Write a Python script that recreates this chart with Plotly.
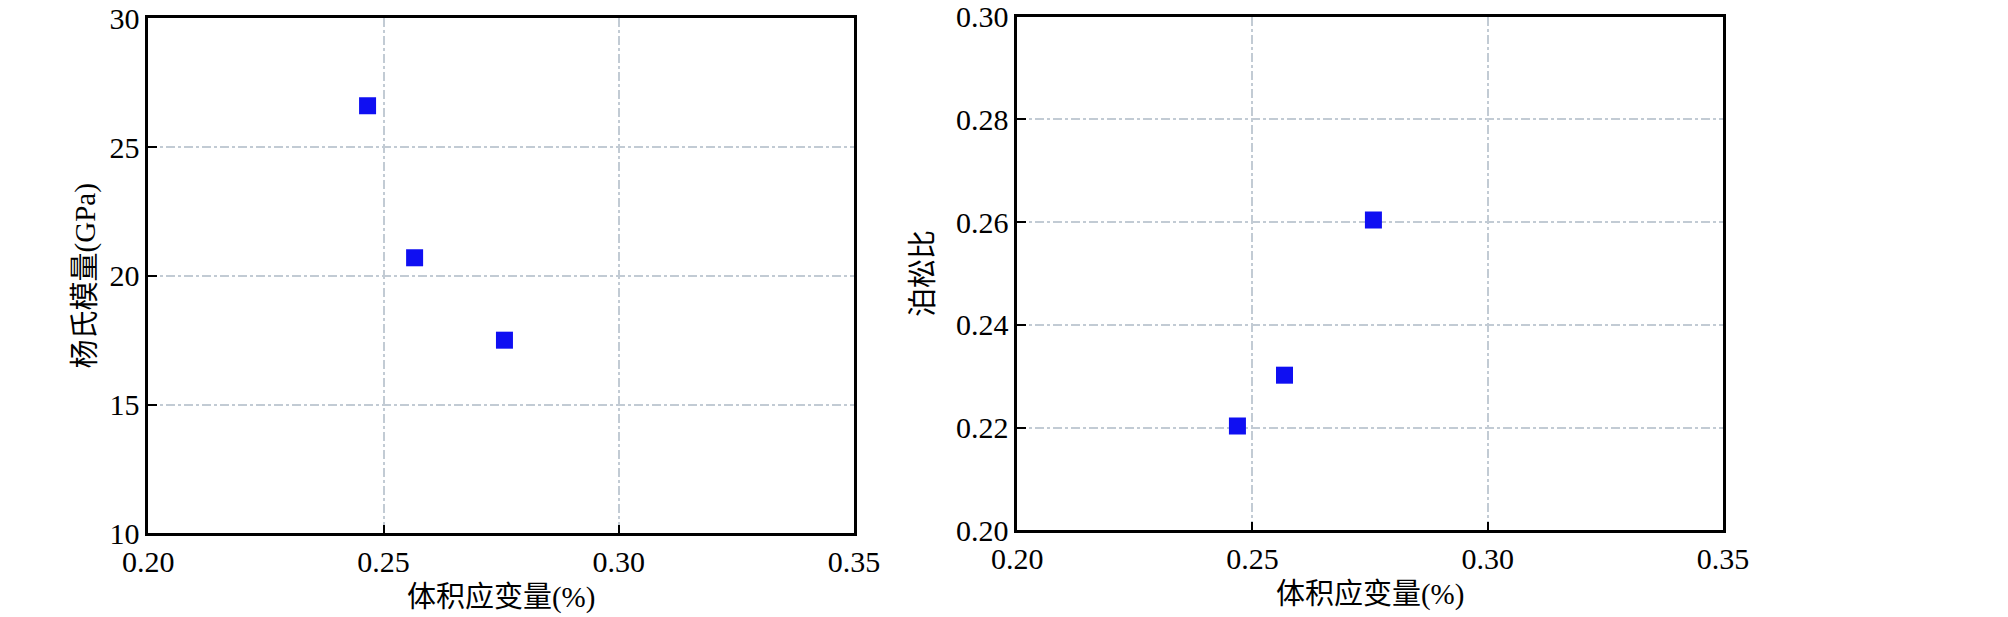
import plotly.graph_objects as go

vol_strain = [0.2466, 0.2566, 0.2757]
youngs_modulus = [26.6, 20.7, 17.5]
vol_strain_2 = [0.2757, 0.2568, 0.2468]
poisson_ratio = [0.2604, 0.2302, 0.2203]

x_ticks = [0.20, 0.25, 0.30, 0.35]
y1_ticks = [10, 15, 20, 25, 30]
y2_ticks = [0.20, 0.22, 0.24, 0.26, 0.28, 0.30]

x_title = "体积应变量(%)"
y1_title = "杨氏模量(GPa)"
y2_title = "泊松比"

FONT = "Liberation Serif, Times New Roman, Noto Sans CJK SC"
GRID = "#c2cbd4"
MARK = "#0f0ff2"

fig = go.Figure()
fig.add_trace(go.Scatter(x=vol_strain, y=youngs_modulus, mode="markers",
                         marker=dict(symbol="square", size=17, color=MARK, line=dict(width=0)),
                         xaxis="x", yaxis="y", showlegend=False))
fig.add_trace(go.Scatter(x=vol_strain_2, y=poisson_ratio, mode="markers",
                         marker=dict(symbol="square", size=17, color=MARK, line=dict(width=0)),
                         xaxis="x2", yaxis="y2", showlegend=False))

def xax(domain, anchor):
    return dict(domain=domain, anchor=anchor, range=[0.20, 0.35], tickvals=x_ticks,
                tickformat=".2f", ticks="inside", ticklen=9, tickwidth=2, tickcolor="black",
                showline=True, linecolor="black", linewidth=2.5, mirror=True,
                showgrid=True, gridcolor=GRID, griddash="dashdot", gridwidth=1.5,
                zeroline=False, automargin=False, ticklabeloverflow="allow",
                tickfont=dict(family=FONT, size=30, color="black"),
                title=dict(text=x_title, font=dict(family=FONT, size=29, color="black"), standoff=10))

def yax(domain, anchor, rng, vals, fmt, title, standoff):
    return dict(domain=domain, anchor=anchor, range=rng, tickvals=vals, tickformat=fmt,
                ticks="inside", ticklen=9, tickwidth=2, tickcolor="black",
                showline=True, linecolor="black", linewidth=2.5, mirror=True,
                showgrid=True, gridcolor=GRID, griddash="dashdot", gridwidth=1.5,
                zeroline=False, automargin=False, ticklabeloverflow="allow",
                tickfont=dict(family=FONT, size=30, color="black"),
                title=dict(text=title, font=dict(family=FONT, size=29, color="black"), standoff=standoff))

fig.update_layout(
    width=2008, height=617,
    margin=dict(l=0, r=0, t=0, b=0),
    paper_bgcolor="white", plot_bgcolor="white",
    xaxis=xax([0.0699, 0.4213], "y"),
    yaxis=yax([0.1486, 0.9833], "x", [10, 30], y1_ticks, "d", y1_title, 6),
    xaxis2=xax([0.5026, 0.8541], "y2"),
    yaxis2=yax([0.1535, 0.9859], "x2", [0.20, 0.30], y2_ticks, ".2f", y2_title, 14),
)

fig.write_html("out.html")
